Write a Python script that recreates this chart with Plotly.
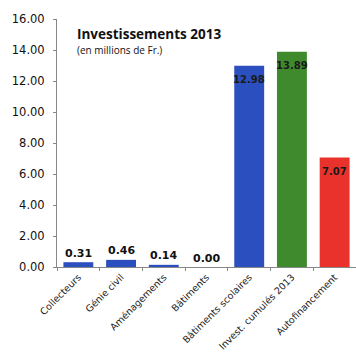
import plotly.graph_objects as go

# Investment figures 2013, in millions of francs
categories = ["Collecteurs", "Génie civil", "Aménagements", "Bâtiments",
              "Bâtiments scolaires", "Invest. cumulés 2013", "Autofinancement"]
values = [0.31, 0.46, 0.14, 0.00, 12.98, 13.89, 7.07]
bar_colors = ["#2b4fbf", "#2b4fbf", "#2b4fbf", "#2b4fbf",
              "#2b4fbf", "#3f8a2c", "#e8322b"]
y_ticks = [0, 2, 4, 6, 8, 10, 12, 14, 16]

fig = go.Figure(go.Bar(
    x=categories,
    y=values,
    marker=dict(color=bar_colors, line=dict(width=0)),
    cliponaxis=False,
))

# Value labels: above short bars, just below the top of tall bars
for cat, v in zip(categories, values):
    inside = v > 5
    fig.add_annotation(
        x=cat, y=v, xref="x", yref="y",
        text=f"<b>{v:.2f}</b>",
        showarrow=False,
        xanchor="center", yanchor="middle",
        yshift=-14 if inside else 9,
        font=dict(family="DejaVu Sans", size=10 if inside else 11,
                  color="#1a1a1a" if inside else "#111"),
    )

fig.update_layout(
    width=356, height=356,
    margin=dict(l=57, r=0, t=19, b=89),
    paper_bgcolor="white", plot_bgcolor="white",
    bargap=0.3,
    showlegend=False,
    font=dict(family="DejaVu Sans", color="#111"),
)

fig.update_yaxes(
    range=[0, 16],
    tickvals=y_ticks,
    tickformat=".2f",
    tickfont=dict(family="DejaVu Sans", size=11.5, color="#111"),
    ticklabelstandoff=6,
    showgrid=False,
    zeroline=False,
    showline=True, linecolor="#888", linewidth=1,
    ticks="outside", ticklen=3, tickcolor="#888",
)

fig.update_xaxes(
    tickangle=-45,
    tickfont=dict(family="DejaVu Sans", size=9.5, color="#222"),
    showline=True, linecolor="#888", linewidth=1,
    ticks="outside", ticklen=3, tickcolor="#888",
    tickson="boundaries",
    showgrid=False,
)

fig.add_annotation(
    text="<b>Investissements 2013</b>",
    xref="paper", yref="paper", x=0.06, y=0.94,
    xanchor="left", yanchor="middle", showarrow=False,
    font=dict(family="Open Sans", size=13.5, color="#111"),
)
fig.add_annotation(
    text="(en millions de Fr.)",
    xref="paper", yref="paper", x=0.06, y=0.875,
    xanchor="left", yanchor="middle", showarrow=False,
    font=dict(family="Open Sans", size=10, color="#111"),
)

fig.write_html("out.html")
